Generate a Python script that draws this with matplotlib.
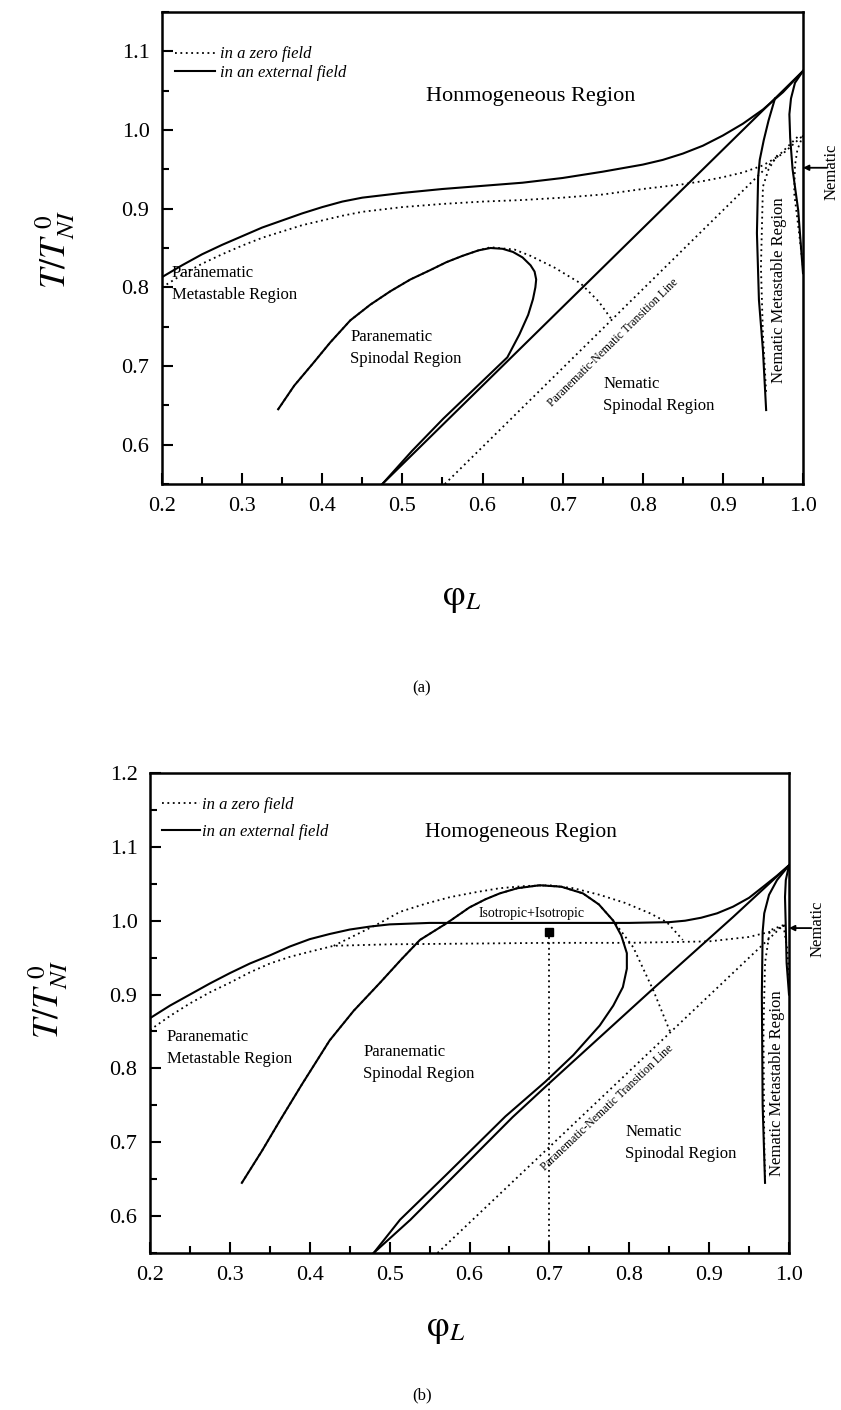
import matplotlib
matplotlib.use("Agg")
import matplotlib.pyplot as plt
from matplotlib.ticker import MultipleLocator

plt.rcParams['font.family'] = ['Liberation Serif', 'DejaVu Serif']
plt.rcParams['mathtext.fontset'] = 'stix'

# ---------------- panel (a) ----------------
# binodal, external field (solid) and zero field (dotted)
a_bin_x = [0.2, 0.225, 0.25, 0.275, 0.3, 0.325, 0.35, 0.375, 0.4, 0.425, 0.45, 0.475, 0.5, 0.55, 0.6,
           0.65, 0.7, 0.75, 0.8, 0.825, 0.85, 0.875, 0.9, 0.925, 0.95, 0.975, 1.0]
a_bin_field_y = [0.813, 0.828, 0.842, 0.854, 0.865, 0.876, 0.885, 0.894, 0.902, 0.909, 0.914, 0.917, 0.920,
                 0.925, 0.929, 0.933, 0.939, 0.947, 0.956, 0.962, 0.970, 0.980, 0.993, 1.008, 1.026, 1.048, 1.075]
a_bin_zero_y = [0.800, 0.816, 0.830, 0.842, 0.853, 0.863, 0.871, 0.879, 0.885, 0.891, 0.896, 0.899, 0.902,
                0.906, 0.909, 0.911, 0.914, 0.918, 0.925, 0.928, 0.931, 0.935, 0.940, 0.946, 0.955, 0.970, 0.993]

# paranematic spinodal loop, external field
a_spin_field_x = [0.345, 0.365, 0.389, 0.41, 0.435, 0.46, 0.485, 0.51, 0.535, 0.555, 0.575, 0.595, 0.61,
                  0.625, 0.638, 0.65, 0.66, 0.665, 0.667, 0.666, 0.663, 0.657, 0.646, 0.631, 0.59, 0.551,
                  0.512, 0.475]
a_spin_field_y = [0.645, 0.675, 0.704, 0.730, 0.758, 0.778, 0.795, 0.810, 0.822, 0.832, 0.840, 0.847, 0.850,
                  0.849, 0.845, 0.838, 0.828, 0.820, 0.810, 0.800, 0.785, 0.765, 0.740, 0.711, 0.671, 0.633,
                  0.592, 0.55]
# paranematic spinodal, zero field
a_spin_zero_x = [0.345, 0.365, 0.389, 0.41, 0.435, 0.46, 0.485, 0.51, 0.535, 0.555, 0.575, 0.595, 0.61,
                 0.64, 0.66, 0.69, 0.7225, 0.745, 0.762]
a_spin_zero_y = [0.645, 0.675, 0.704, 0.730, 0.758, 0.778, 0.795, 0.810, 0.822, 0.832, 0.840, 0.847, 0.851,
                 0.848, 0.840, 0.825, 0.805, 0.782, 0.758]

# transition lines
a_trans_field_x = [0.475, 1.0]
a_trans_field_y = [0.55, 1.075]
a_trans_zero_x = [0.553, 0.995]
a_trans_zero_y = [0.55, 0.993]

# nematic metastable boundaries
a_nem_left_field_x = [0.965, 0.957, 0.951, 0.946, 0.944, 0.9425, 0.945, 0.950, 0.954]
a_nem_left_field_y = [1.040, 1.012, 0.987, 0.962, 0.940, 0.869, 0.784, 0.720, 0.644]
a_nem_right_field_x = [1.0, 0.990, 0.985, 0.983, 0.984, 0.987, 0.994, 1.0]
a_nem_right_field_y = [1.075, 1.060, 1.040, 1.020, 0.990, 0.950, 0.898, 0.818]
a_nem_left_zero_x = [0.968, 0.957, 0.950, 0.9475, 0.950, 0.954]
a_nem_left_zero_y = [0.968, 0.950, 0.928, 0.826, 0.740, 0.666]
a_nem_right_zero_x = [1.0, 0.993, 0.990, 0.989, 0.995, 1.0]
a_nem_right_zero_y = [0.993, 0.975, 0.955, 0.920, 0.870, 0.826]
a_nematic_y = 0.952

# ---------------- panel (b) ----------------
b_bin_field_x = [0.2, 0.225, 0.25, 0.275, 0.3, 0.325, 0.35, 0.375, 0.4, 0.425, 0.45, 0.475, 0.5, 0.55,
                 0.6, 0.7, 0.8, 0.85, 0.87, 0.89, 0.91, 0.93, 0.95, 0.97, 0.985, 1.0]
b_bin_field_y = [0.868, 0.885, 0.900, 0.915, 0.929, 0.942, 0.953, 0.965, 0.975, 0.982, 0.988, 0.992, 0.995,
                 0.997, 0.997, 0.997, 0.997, 0.998, 1.000, 1.004, 1.010, 1.019, 1.031, 1.048, 1.061, 1.075]
b_bin_zero_x = [0.2, 0.225, 0.25, 0.275, 0.3, 0.325, 0.35, 0.375, 0.4, 0.43, 0.5, 0.6, 0.7, 0.8, 0.9,
                0.95, 0.98, 0.995]
b_bin_zero_y = [0.852, 0.871, 0.888, 0.903, 0.916, 0.930, 0.942, 0.951, 0.958, 0.966, 0.968, 0.969, 0.970,
                0.970, 0.972, 0.978, 0.986, 0.994]

# isotropic-isotropic dome, zero field
b_dome_x = [0.43, 0.46, 0.488, 0.513, 0.545, 0.576, 0.61, 0.638, 0.67, 0.70, 0.73, 0.763, 0.795, 0.826,
            0.847, 0.867]
b_dome_y = [0.966, 0.982, 0.997, 1.012, 1.023, 1.032, 1.039, 1.044, 1.047, 1.048, 1.044, 1.035, 1.024,
            1.010, 0.998, 0.974]

# paranematic spinodal loop, external field
b_spin_field_x = [0.315, 0.34, 0.363, 0.39, 0.425, 0.455, 0.488, 0.515, 0.538, 0.572, 0.60, 0.62, 0.638,
                  0.66, 0.688, 0.715, 0.742, 0.762, 0.78, 0.79, 0.797, 0.797, 0.792, 0.78, 0.763, 0.73,
                  0.695, 0.645, 0.57, 0.513, 0.48]
b_spin_field_y = [0.645, 0.688, 0.730, 0.778, 0.838, 0.878, 0.916, 0.948, 0.974, 0.997, 1.018, 1.029, 1.037,
                  1.044, 1.048, 1.046, 1.037, 1.022, 1.000, 0.980, 0.956, 0.935, 0.910, 0.885, 0.858, 0.818,
                  0.782, 0.735, 0.655, 0.595, 0.55]
# paranematic spinodal, zero field
b_spin_zero_x = [0.315, 0.34, 0.363, 0.39, 0.425, 0.455, 0.488, 0.515, 0.538, 0.572, 0.60, 0.62, 0.638,
                 0.66, 0.688, 0.715, 0.742, 0.762, 0.78, 0.805, 0.83, 0.851]
b_spin_zero_y = [0.645, 0.688, 0.730, 0.778, 0.838, 0.878, 0.916, 0.948, 0.974, 0.997, 1.018, 1.029, 1.037,
                 1.044, 1.048, 1.046, 1.037, 1.022, 1.000, 0.964, 0.906, 0.850]

b_trans_field_x = [0.48, 0.526, 0.654, 0.70, 0.83, 0.93, 1.0]
b_trans_field_y = [0.55, 0.595, 0.734, 0.780, 0.908, 1.005, 1.075]
b_trans_zero_x = [0.56, 0.993]
b_trans_zero_y = [0.55, 0.994]

b_nem_left_field_x = [1.0, 0.985, 0.975, 0.969, 0.967, 0.966, 0.967, 0.970]
b_nem_left_field_y = [1.075, 1.055, 1.035, 1.010, 0.985, 0.900, 0.750, 0.645]
b_nem_right_field_x = [1.0, 0.996, 0.995, 0.996, 0.997, 1.0]
b_nem_right_field_y = [1.075, 1.055, 1.032, 0.990, 0.943, 0.900]
b_nem_left_zero_x = [0.993, 0.976, 0.970, 0.968, 0.969, 0.970]
b_nem_left_zero_y = [0.994, 0.987, 0.943, 0.850, 0.700, 0.650]
b_nem_right_zero_x = [0.993, 0.998, 1.0]
b_nem_right_zero_y = [0.994, 0.960, 0.920]
b_nematic_y = 0.990

# critical point with its concentration
b_crit_x = 0.70
b_crit_y = 0.985

SOLID = dict(color='k', lw=1.5, ls='-')
DOT = dict(color='k', lw=1.3, ls=(0, (1, 2.0)))


def style_axes(ax, ylo, yhi):
    ax.set_xlim(0.2, 1.0)
    ax.set_ylim(ylo, yhi)
    ax.xaxis.set_major_locator(MultipleLocator(0.1))
    ax.xaxis.set_minor_locator(MultipleLocator(0.05))
    ax.yaxis.set_major_locator(MultipleLocator(0.1))
    ax.yaxis.set_minor_locator(MultipleLocator(0.05))
    ax.tick_params(which='both', direction='in', top=False, right=False, width=1.5)
    ax.tick_params(which='major', length=8, labelsize=16, pad=9)
    ax.tick_params(which='minor', length=5)
    for s in ax.spines.values():
        s.set_linewidth(1.8)
    ax.xaxis.set_major_formatter(plt.FuncFormatter(lambda v, p: '%.1f' % v))
    ax.yaxis.set_major_formatter(plt.FuncFormatter(lambda v, p: '%.1f' % v))


fig = plt.figure(figsize=(8.41, 14.10), dpi=100)
W, H = 841.0, 1410.0

# ---------- (a) ----------
ax = fig.add_axes([162 / W, 1 - 484 / H, 641 / W, 472 / H])
style_axes(ax, 0.55, 1.15)
ax.set_yticks([0.6, 0.7, 0.8, 0.9, 1.0, 1.1])

ax.plot(a_bin_x, a_bin_zero_y, label='in a zero field', **DOT)
ax.plot(a_bin_x, a_bin_field_y, label='in an external field', **SOLID)
ax.plot(a_spin_field_x, a_spin_field_y, **SOLID)
ax.plot(a_spin_zero_x, a_spin_zero_y, **DOT)
ax.plot(a_trans_field_x, a_trans_field_y, **SOLID)
ax.plot(a_trans_zero_x, a_trans_zero_y, **DOT)
ax.plot(a_nem_left_field_x, a_nem_left_field_y, **SOLID)
ax.plot(a_nem_right_field_x, a_nem_right_field_y, **SOLID)
ax.plot(a_nem_left_zero_x, a_nem_left_zero_y, **DOT)
ax.plot(a_nem_right_zero_x, a_nem_right_zero_y, **DOT)

ax.legend(loc='upper left', bbox_to_anchor=(0.02, 0.927), frameon=False, borderpad=0,
          borderaxespad=0, handlelength=2.4, handletextpad=0.3, labelspacing=0.15,
          prop=dict(family='Liberation Serif', style='italic', size=12))

ax.text(0.66, 1.042, 'Honmogeneous Region', fontsize=16, ha='center', va='center')
ax.text(0.2125, 0.804, 'Paranematic\nMetastable Region', fontsize=12, ha='left', va='center', linespacing=1.5)
ax.text(0.435, 0.723, 'Paranematic\nSpinodal Region', fontsize=12, ha='left', va='center', linespacing=1.5)
ax.text(0.751, 0.663, 'Nematic\nSpinodal Region', fontsize=12, ha='left', va='center', linespacing=1.5)
ax.text(0.97, 0.797, 'Nematic Metastable Region', fontsize=12, rotation=90, ha='center', va='center')
ax.text(0.7625, 0.729, 'Paranematic-Nematic Transition Line', fontsize=8.5, rotation=44.5,
        rotation_mode='anchor', ha='center', va='center')
ax.annotate('', xy=(1.0, a_nematic_y), xytext=(1.03, a_nematic_y), annotation_clip=False,
            arrowprops=dict(arrowstyle='-|>', color='k', lw=1.3, mutation_scale=8, shrinkA=0, shrinkB=0))
ax.text(1.036, 0.947, 'Nematic', fontsize=12, rotation=90, ha='center', va='center', clip_on=False)

# ---------- (b) ----------
bx = fig.add_axes([150 / W, 1 - 1253 / H, 639 / W, 480 / H])
style_axes(bx, 0.55, 1.2)
bx.set_yticks([0.6, 0.7, 0.8, 0.9, 1.0, 1.1, 1.2])

bx.plot(b_bin_zero_x, b_bin_zero_y, label='in a zero field', **DOT)
bx.plot(b_bin_field_x, b_bin_field_y, label='in an external field', **SOLID)
bx.plot(b_dome_x, b_dome_y, **DOT)
bx.plot(b_spin_field_x, b_spin_field_y, **SOLID)
bx.plot(b_spin_zero_x, b_spin_zero_y, **DOT)
bx.plot(b_trans_field_x, b_trans_field_y, **SOLID)
bx.plot(b_trans_zero_x, b_trans_zero_y, **DOT)
bx.plot(b_nem_left_field_x, b_nem_left_field_y, **SOLID)
bx.plot(b_nem_right_field_x, b_nem_right_field_y, **SOLID)
bx.plot(b_nem_left_zero_x, b_nem_left_zero_y, **DOT)
bx.plot(b_nem_right_zero_x, b_nem_right_zero_y, **DOT)
bx.plot([b_crit_x, b_crit_x], [0.55, b_crit_y], **DOT)
bx.plot([b_crit_x], [b_crit_y], marker='s', color='k', ms=6, ls='none')

bx.legend(loc='upper left', bbox_to_anchor=(0.019, 0.95), frameon=False, borderpad=0,
          borderaxespad=0, handlelength=2.3, handletextpad=0.1, labelspacing=0.65,
          prop=dict(family='Liberation Serif', style='italic', size=12))

bx.text(0.664, 1.12, 'Homogeneous Region', fontsize=15.5, ha='center', va='center')
bx.text(0.678, 1.01, 'Isotropic+Isotropic', fontsize=10, ha='center', va='center')
bx.text(0.221, 0.828, 'Paranematic\nMetastable Region', fontsize=12, ha='left', va='center', linespacing=1.5)
bx.text(0.467, 0.807, 'Paranematic\nSpinodal Region', fontsize=12, ha='left', va='center', linespacing=1.5)
bx.text(0.795, 0.699, 'Nematic\nSpinodal Region', fontsize=12, ha='left', va='center', linespacing=1.5)
bx.text(0.985, 0.78, 'Nematic Metastable Region', fontsize=12, rotation=90, ha='center', va='center')
bx.text(0.772, 0.746, 'Paranematic-Nematic Transition Line', fontsize=8.5, rotation=43.5,
        rotation_mode='anchor', ha='center', va='center')
bx.annotate('', xy=(1.0, b_nematic_y), xytext=(1.028, b_nematic_y), annotation_clip=False,
            arrowprops=dict(arrowstyle='-|>', color='k', lw=1.3, mutation_scale=8, shrinkA=0, shrinkB=0))
bx.text(1.036, 0.989, 'Nematic', fontsize=12, rotation=90, ha='center', va='center', clip_on=False)

# axis titles and captions
ylab = r'$T/T_{NI}^{\ \mathrm{0}}$'
xlab = r'$\mathrm{\varphi}_{L}$'
fig.text(55 / W, 1 - 250 / H, ylab, fontsize=26, rotation=90, ha='center', va='center')
fig.text(48 / W, 1 - 1000 / H, ylab, fontsize=26, rotation=90, ha='center', va='center')
fig.text(462 / W, 1 - 598 / H, xlab, fontsize=26, ha='center', va='center')
fig.text(446 / W, 1 - 1330 / H, xlab, fontsize=26, ha='center', va='center')
fig.text(422 / W, 1 - 688 / H, '(a)', fontsize=12, ha='center', va='center')
fig.text(422 / W, 1 - 1395 / H, '(b)', fontsize=12, ha='center', va='center')

fig.savefig('out.png', dpi=100)
